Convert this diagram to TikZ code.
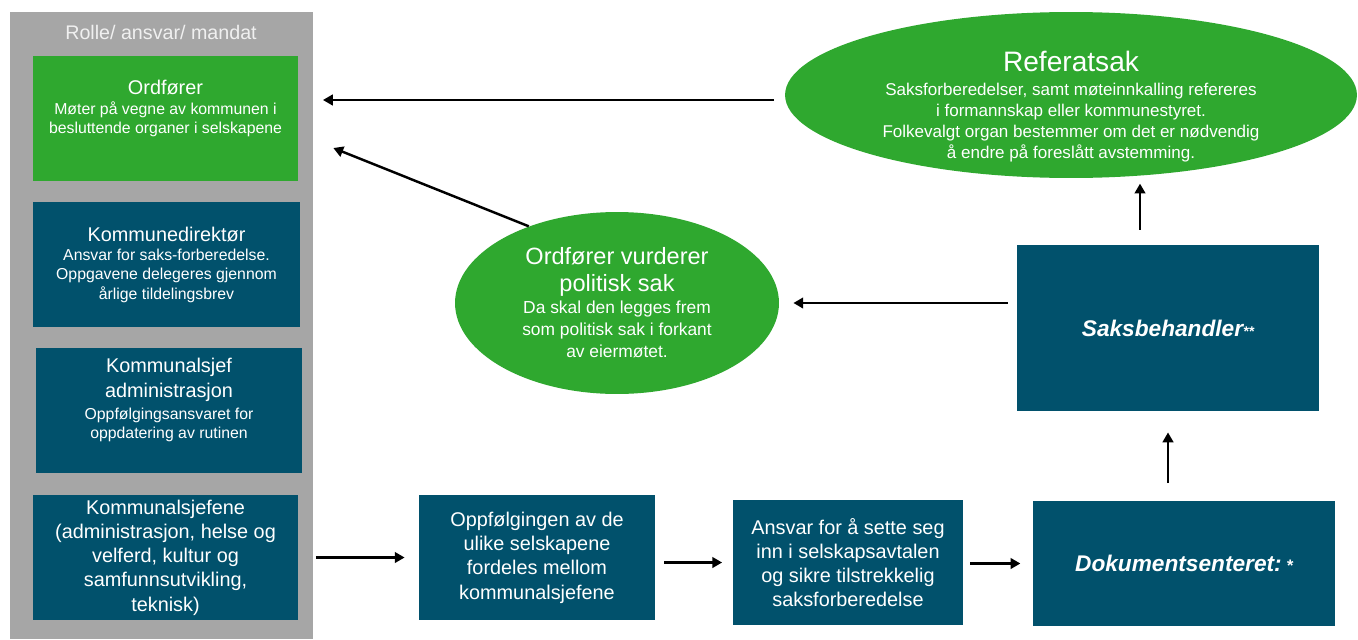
\documentclass[tikz,border=0pt]{standalone}
\usepackage{fontspec}
\setmainfont{Liberation Sans}
\usetikzlibrary{shapes.geometric,calc,arrows.meta,positioning}
\usepackage{xcolor}
\definecolor{mgreen}{HTML}{2FA82F}
\definecolor{mteal}{HTML}{01516C}
\definecolor{mgray}{HTML}{A6A6A6}
\newcommand{\ttlfont}{\fontsize{11.3}{13.8}\selectfont}
\newcommand{\subfont}{\fontsize{9}{11}\selectfont}
\tikzstyle{l1}=[line width=1.4pt]
\tikzstyle{arr}=[l1, -{Triangle[length=5.6pt,width=6pt]}]
\tikzstyle{box}=[rectangle, fill=mteal, text=white, align=center, inner sep=0pt, minimum height=2.5cm]
\tikzstyle{gbox}=[box, fill=mgreen]
\tikzstyle{ell}=[ellipse, fill=mgreen, inner sep=0pt]
\tikzstyle{txt}=[text=white, align=center, inner sep=0pt]

\begin{document}
\begin{tikzpicture}[x=0.02cm, y=-0.02cm]
    \useasboundingbox (0,0) rectangle (1358,639);
    % left column
    \node[rectangle, fill=mgray, minimum width=6.06cm, minimum height=12.54cm] at (161.5,325.5) (panel) {};
    \node[txt, text=white!94!black, font=\fontsize{11.2}{13}\selectfont] at (161,32) (hdr) {Rolle/ ansvar/ mandat};
    \node[gbox, minimum width=5.3cm] at (165.5,118.5) (ordf) {};
    \node[txt, font=\subfont, below=14pt of ordf.north] (ordftxt) {{\ttlfont Ordfører}\\ Møter på vegne av kommunen i\\ besluttende organer i selskapene};
    \node[box, minimum width=5.34cm, font=\subfont] at (166.5,264.5) (kdir) {{\ttlfont Kommunedirektør}\\ Ansvar for saks-forberedelse.\\ Oppgavene delegeres gjennom\\ årlige tildelingsbrev};
    \node[box, minimum width=5.32cm] at (169,410.5) (ksjef) {};
    \node[txt, font=\subfont, below=6pt of ksjef.north] (ksjeftxt) {{\ttlfont Kommunalsjef}\\[3pt] {\ttlfont administrasjon}\\[1.5pt] Oppfølgingsansvaret for\\ oppdatering av rutinen};
    \node[box, minimum width=5.3cm, font=\ttlfont] at (165.5,557.5) (ksjefene) {Kommunalsjefene\\ (administrasjon, helse og\\ velferd, kultur og\\ samfunnsutvikling,\\ teknisk)};

    % bottom row
    \node[box, minimum width=4.72cm, font=\ttlfont] at (537,557.5) (oppf) {Oppfølgingen av de\\ ulike selskapene\\ fordeles mellom\\ kommunalsjefene};
    \node[box, minimum width=4.6cm, font=\ttlfont] at (848,562.5) (ansvar) {Ansvar for å sette seg\\ inn i selskapsavtalen\\ og sikre tilstrekkelig\\ saksforberedelse};
    \node[box, minimum width=6.04cm, font=\fontsize{12.9}{15}\selectfont\bfseries\itshape] at (1184,563.5) (dok) {Dokumentsenteret:{\fontsize{9.5}{10}\selectfont\ *}};
    \node[box, minimum width=6.04cm, minimum height=3.32cm, font=\fontsize{12.9}{15}\selectfont\bfseries\itshape] at (1168,328) (saksb) {Saksbehandler{\fontsize{8}{8}\selectfont **}};

    % ellipses
    \node[ell, minimum width=11.44cm, minimum height=3.32cm] at (1071,95) (ref) {};
    \node[txt, font=\fontsize{9.7}{12}\selectfont, below=22pt of ref.north] (reftxt) {{\fontsize{16}{19}\selectfont Referatsak}\\[2pt] Saksforberedelser, samt møteinnkalling refereres\\ i formannskap eller kommunestyret.\\ Folkevalgt organ bestemmer om det er nødvendig\\ å endre på foreslått avstemming.};
    \node[ell, minimum width=6.48cm, minimum height=3.64cm, text=white, align=center, font=\fontsize{9.9}{12.5}\selectfont] at (617,303) (vurd) {{\fontsize{13.4}{15.3}\selectfont Ordfører vurderer}\\[2.8pt] {\fontsize{13.4}{15.3}\selectfont politisk sak}\\ Da skal den legges frem\\ som politisk sak i forkant\\ av eiermøtet.};

    \draw[arr, shorten <=6pt, shorten >=14pt] ($(ref.west)+(0,5)$) -- ($(ref.west -| ordf.east)+(0,5)$);
    \draw[arr] (vurd.139) -- ($(ordf.east)+(35,29.5)$);
    \draw[arr, shorten <=5pt, shorten >=8pt] (saksb.west |- vurd.east) -- (vurd.east);
    \draw[arr, shorten <=8.5pt, shorten >=3pt] ([xshift=-0.56cm]saksb.north) -- ([xshift=-0.56cm]saksb.north |- ref.south);
    \draw[arr, shorten <=10pt, shorten >=12pt] (saksb.south |- dok.north) -- (saksb.south);
    \draw[arr, shorten <=10pt, shorten >=8pt] (ksjefene.east) -- (oppf.west);
    \draw[arr, shorten <=5pt, shorten >=6pt] (oppf.east |- ansvar.west) -- (ansvar.west);
    \draw[arr, shorten <=4pt, shorten >=7pt] (ansvar.east |- dok.west) -- (dok.west);
\end{tikzpicture}
\end{document}
